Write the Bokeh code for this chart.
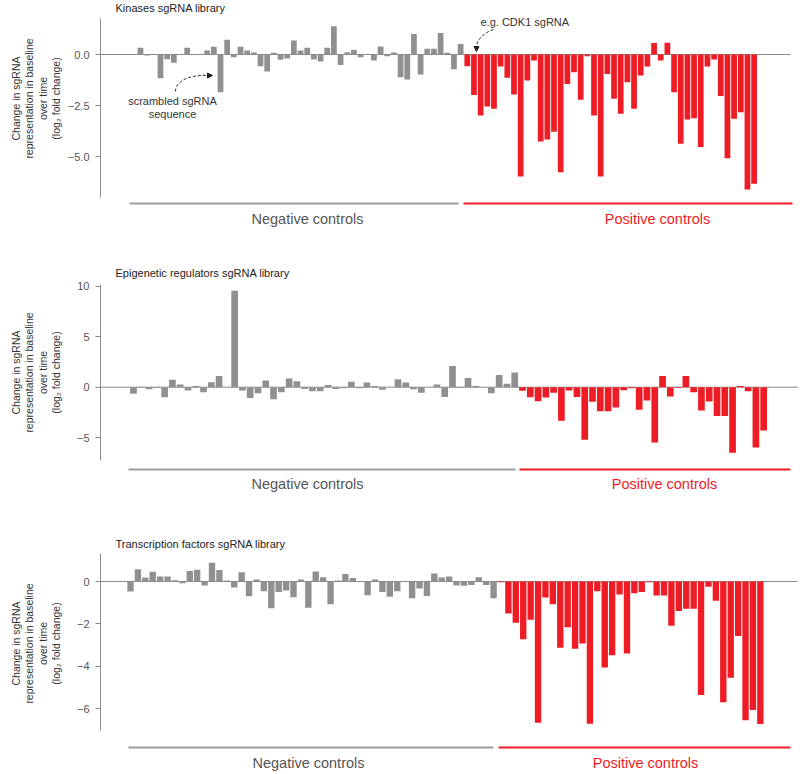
import math
from bokeh.plotting import figure
from bokeh.models import (Range1d, FixedTicker, Label, ColumnDataSource,
                          CustomJSTickFormatter, Arrow, NormalHead)
from bokeh.layouts import column
from bokeh.embed import file_html
from bokeh.resources import INLINE

# ---------------- data (log2 fold change) ----------------
kinase_neg = [0, 0.33, -0.05, 0, -1.16, -0.23, -0.41, 0.02, 0.33, 0.02,
              0, 0.2, 0.38, -1.85, 0.72, -0.13, 0.38, 0.2, 0.1, -0.57,
              -0.83, 0.08, -0.26, -0.2, 0.69, 0.2, 0.33, -0.25, -0.34, 0.33,
              1.39, -0.51, 0.11, 0.23, -0.13, 0, -0.29, 0.39, -0.08, 0.1,
              -1.11, -1.23, 1.01, -0.98, 0.28, 0.28, 1.06, 0.08, -0.72, 0.51]
kinase_pos = [-0.57, -1.98, -2.99, -2.55, -2.66, -0.59, -1.14, -1.96, -5.98, -1.27,
              -0.29, -4.26, -4.17, -3.79, -5.77, -1.44, -0.87, -2.22, -0.08, -2.99,
              -5.98, -0.95, -2.17, -2.91, -1.36, -2.66, -1.03, -0.59, 0.56, -0.29,
              0.57, -1.85, -4.38, -3.19, -3.12, -4.54, -0.59, -0.25, -2.04, -5.08,
              -3.15, -2.83, -6.62, -6.34]
epi_neg = [-0.66, 0.05, -0.2, -0.07, -1.0, 0.73, 0.26, -0.33, 0.13, -0.5,
           0.5, 1.12, 0, 9.54, -0.33, -1.06, -0.6, 0.66, -1.19, -0.5,
           0.86, 0.6, -0.17, -0.4, -0.4, 0.23, -0.17, -0.1, 0.53, -0.1,
           0.46, 0.13, -0.26, 0, 0.79, 0.46, -0.2, -0.56, 0, 0.26,
           -0.96, 2.11, -0.07, 0.92, 0.13, 0, -0.6, 1.2, 0.33, 1.45]
epi_pos = [-0.36, -1.0, -1.39, -1.02, -0.56, -3.33, -0.33, -0.96, -5.21, -1.45,
           -2.38, -2.38, -2.01, -0.3, -0.1, -2.24, -1.32, -5.48, 1.12, -0.92,
           -0.07, 1.12, -0.5, -2.31, -1.42, -2.84, -2.84, -6.5, 0.13, -0.4,
           -5.97, -4.29]
tf_neg = [-0.47, 0.58, 0.19, 0.46, 0.24, 0.24, 0.06, -0.08, 0.49, 0.55,
          -0.19, 0.88, 0.54, 0.05, -0.28, 0.44, -0.69, 0.09, -0.46, -1.26,
          -0.5, -0.43, -0.74, 0.09, -1.24, 0.47, 0.2, -1.07, 0.05, 0.35,
          0.17, 0, -0.65, 0.09, -0.5, -0.72, -0.46, 0, -0.79, -0.33,
          -0.68, 0.38, 0.19, 0.24, -0.19, -0.2, -0.16, 0.2, -0.16, -0.79]
tf_pos = [-0.03, -1.51, -1.94, -2.72, -1.81, -6.66, -0.76, -1.07, -3.12, -2.16,
          -3.17, -2.93, -6.71, -0.46, -4.06, -3.48, -0.61, -3.4, -0.55, -0.5,
          -0.03, -0.66, -0.66, -2.09, -1.39, -1.28, -1.29, -5.35, -0.25, -0.91,
          -5.69, -4.54, -2.57, -6.54, -6.06, -6.72]

titles = ["Kinases sgRNA library",
          "Epigenetic regulators sgRNA library",
          "Transcription factors sgRNA library"]
kinase_ticks = [0, -2.5, -5]
epi_ticks = [10, 5, 0, -5]
tf_ticks = [0, -2, -4, -6]
group_labels = ["Negative controls", "Positive controls"]
ylabel_lines = ["Change in sgRNA", "representation in baseline", "over time",
                "(log\u2082 fold change)"]

# ---------------- style / layout ----------------
GRAY = "#909090"
RED = "#ee1c25"
AXC = "#8a8a8a"
FONT = "Liberation Sans"
W = 798
PAGE_X = 0
AXIS_X = 100

configs = [
    dict(top=0, H=262, zero=54, ppu=20.4, c0=133.3, pitch=6.67, ax_top=18, ax_bot=197,
         title_y=7, line_y=203, text_y=218, neg_line=(129, 458), pos_line=(463, 792),
         neg_tx=307, pos_tx=657, ylab_y=98, base_end=790, dec=1),
    dict(top=262, H=270, zero=386.7, ppu=10.1, c0=133.0, pitch=7.78, ax_top=284, ax_bot=460,
         title_y=272, line_y=469, text_y=483, neg_line=(128, 515), pos_line=(519, 790),
         neg_tx=307, pos_tx=664, ylab_y=372, base_end=798, dec=0),
    dict(top=532, H=240, zero=581, ppu=21.2, c0=130.0, pitch=7.41, ax_top=553, ax_bot=730,
         title_y=543, line_y=747, text_y=762, neg_line=(128, 493), pos_line=(498, 790),
         neg_tx=308, pos_tx=645, ylab_y=643, base_end=797, dec=0),
]


def make_panel(neg, pos, title, ticks, cfg):
    fx = lambda px: (px - cfg["c0"]) / cfg["pitch"]
    fy = lambda py: (cfg["zero"] - py) / cfg["ppu"]
    top, H = cfg["top"], cfg["H"]
    p = figure(width=W, height=H, output_backend="svg", toolbar_location=None,
               x_range=Range1d(fx(PAGE_X), fx(PAGE_X + W)),
               y_range=Range1d(fy(top + H), fy(top)),
               x_axis_location=None, y_axis_location="left",
               min_border_left=0, min_border_right=0,
               min_border_top=0, min_border_bottom=0)
    p.outline_line_color = None
    p.xgrid.visible = False
    p.ygrid.visible = False

    ax = p.yaxis[0]
    ax.fixed_location = fx(AXIS_X)
    ax.ticker = FixedTicker(ticks=ticks)
    ax.bounds = (fy(cfg["ax_bot"]), fy(cfg["ax_top"]))
    ax.formatter = CustomJSTickFormatter(
        code="return (tick < 0 ? '\\u2212' : '') + Math.abs(tick).toFixed(%d);" % cfg["dec"])
    ax.minor_tick_line_color = None
    ax.major_tick_out = 5
    ax.major_tick_in = 0
    ax.axis_line_color = AXC
    ax.major_tick_line_color = AXC
    ax.major_label_text_font = FONT
    ax.major_label_text_font_size = "11px"
    ax.major_label_text_color = "#555555"
    ax.major_label_standoff = 6

    # baseline
    p.segment(x0=[fx(AXIS_X)], y0=[0], x1=[fx(cfg["base_end"])], y1=[0],
              line_color=AXC, line_width=1)

    vals = list(neg) + list(pos)
    src = ColumnDataSource(dict(
        x=list(range(len(vals))), top=vals,
        color=[GRAY] * len(neg) + [RED] * len(pos)))
    p.vbar(x="x", top="top", bottom=0, width=0.86, fill_color="color",
           line_color=None, source=src)

    # group lines
    ly = fy(cfg["line_y"])
    p.segment(x0=[fx(cfg["neg_line"][0])], y0=[ly], x1=[fx(cfg["neg_line"][1])], y1=[ly],
              line_color="#9c9c9c", line_width=2)
    p.segment(x0=[fx(cfg["pos_line"][0])], y0=[ly], x1=[fx(cfg["pos_line"][1])], y1=[ly],
              line_color=RED, line_width=2)
    ty = fy(cfg["text_y"])
    p.add_layout(Label(x=fx(cfg["neg_tx"]), y=ty, text=group_labels[0], text_font=FONT,
                       text_font_size="14.5px", text_color="#555555",
                       text_align="center", text_baseline="middle"))
    p.add_layout(Label(x=fx(cfg["pos_tx"]), y=ty, text=group_labels[1], text_font=FONT,
                       text_font_size="14.5px", text_color=RED,
                       text_align="center", text_baseline="middle"))

    # title
    p.add_layout(Label(x=fx(115), y=fy(cfg["title_y"]), text=title, text_font=FONT,
                       text_font_size="11px", text_color="#222222",
                       text_align="left", text_baseline="middle"))

    # y-axis label (4 rotated lines)
    for line, px in zip(ylabel_lines, [15, 28.5, 42, 55.5]):
        p.add_layout(Label(x=fx(px), y=fy(cfg["ylab_y"]), text=line, angle=math.pi / 2,
                           text_font=FONT, text_font_size="10.5px", text_color="#333333",
                           text_align="center", text_baseline="middle"))
    return p, fx, fy


p1, fx1, fy1 = make_panel(kinase_neg, kinase_pos, titles[0], kinase_ticks, configs[0])
p2, fx2, fy2 = make_panel(epi_neg, epi_pos, titles[1], epi_ticks, configs[1])
p3, fx3, fy3 = make_panel(tf_neg, tf_pos, titles[2], tf_ticks, configs[2])

# annotations on the kinase panel
p1.add_layout(Label(x=fx1(172), y=fy1(100), text="scrambled sgRNA", text_font=FONT,
                    text_font_size="11px", text_color="#333333",
                    text_align="center", text_baseline="middle"))
p1.add_layout(Label(x=fx1(172), y=fy1(113), text="sequence", text_font=FONT,
                    text_font_size="11px", text_color="#333333",
                    text_align="center", text_baseline="middle"))
p1.bezier(x0=[fx1(175)], y0=[fy1(91)], x1=[fx1(207)], y1=[fy1(75)],
          cx0=[fx1(175)], cy0=[fy1(80)], cx1=[fx1(190)], cy1=[fy1(74)],
          line_color="#333333", line_width=1, line_dash="3 2")
p1.add_layout(Arrow(end=NormalHead(size=5, fill_color="#222222", line_color="#222222"),
                    x_start=fx1(206), y_start=fy1(75), x_end=fx1(212), y_end=fy1(75),
                    line_alpha=0))

p1.add_layout(Label(x=fx1(480), y=fy1(21), text="e.g. CDK1 sgRNA", text_font=FONT,
                    text_font_size="11px", text_color="#333333",
                    text_align="left", text_baseline="middle"))
p1.bezier(x0=[fx1(493)], y0=[fy1(29)], x1=[fx1(476)], y1=[fy1(46)],
          cx0=[fx1(484)], cy0=[fy1(32)], cx1=[fx1(477)], cy1=[fy1(38)],
          line_color="#333333", line_width=1, line_dash="3 2")
p1.add_layout(Arrow(end=NormalHead(size=5, fill_color="#222222", line_color="#222222"),
                    x_start=fx1(476), y_start=fy1(45), x_end=fx1(476), y_end=fy1(51),
                    line_alpha=0))

layout = column(p1, p2, p3)
open("out.html", "w").write(file_html(layout, INLINE))
